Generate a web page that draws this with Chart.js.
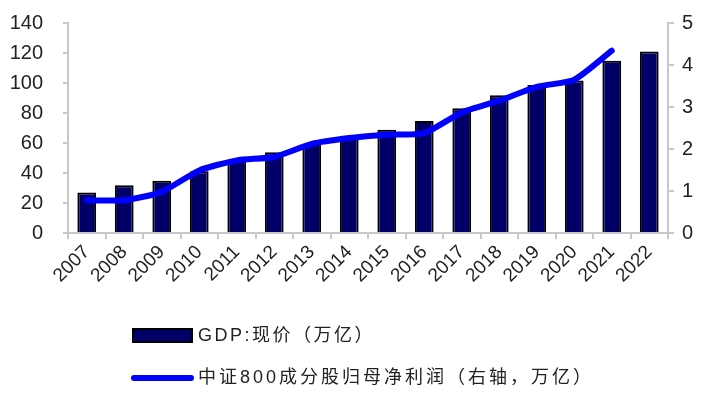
<!DOCTYPE html>
<html>
<head>
<meta charset="utf-8">
<script src="https://cdn.jsdelivr.net/npm/chart.js@4"></script>
<style>
  html, body { margin: 0; padding: 0; background: #fff; }
  #clip { width: 711px; height: 396px; overflow: hidden; position: relative; }
  #wrap { width: 711px; height: 405px; position: absolute; left: 0; top: -9px; }
</style>
</head>
<body>
<div id="clip"><div id="wrap"><canvas id="c"></canvas></div></div>
<script>
const years = ['2007','2008','2009','2010','2011','2012','2013','2014','2015','2016','2017','2018','2019','2020','2021','2022'];
const gdp = [27.0, 31.9, 34.9, 41.2, 48.8, 53.9, 59.3, 64.4, 68.9, 74.6, 83.2, 91.9, 98.7, 101.6, 114.9, 121.0];
const profit = [0.78, 0.78, 0.98, 1.49, 1.73, 1.81, 2.12, 2.26, 2.34, 2.38, 2.87, 3.15, 3.48, 3.65, 4.34, null];
const gdpLabel = 'GDP:现价（万亿）';
const profitLabel = '中证800成分股归母净利润（右轴，万亿）';

const FONT = '"Liberation Sans", Arial, "Noto Sans CJK SC", sans-serif';
const AXIS_GRAY = '#c8c8c8';
const SHIFT = 9; // canvas sits 9px above the page top

// legend drawn by hand, two rows below the axis
const bottomLegend = {
  id: 'bottomLegend',
  afterDraw(chart) {
    const ctx = chart.ctx;
    ctx.save();
    ctx.translate(0, SHIFT);
    // bar item
    ctx.fillStyle = '#000068';
    ctx.strokeStyle = '#000';
    ctx.lineWidth = 2;
    ctx.fillRect(133, 329, 59, 13);
    ctx.strokeRect(133, 329, 59, 13);
    // line item
    ctx.strokeStyle = '#0000ff';
    ctx.lineWidth = 6;
    ctx.lineCap = 'round';
    ctx.beginPath();
    ctx.moveTo(134, 378);
    ctx.lineTo(191, 378);
    ctx.stroke();

    ctx.fillStyle = '#222';
    ctx.textBaseline = 'middle';
    ctx.font = '18px ' + FONT;
    ctx.letterSpacing = '2.5px';
    ctx.fillText(chart.data.datasets[0].label, 198, 336);
    ctx.letterSpacing = '3px';
    ctx.fillText(chart.data.datasets[1].label, 198, 378);
    ctx.restore();
  }
};

const ctx = document.getElementById('c').getContext('2d');
const chart = new Chart(ctx, {
  data: {
    labels: years,
    datasets: [
      {
        type: 'bar',
        label: gdpLabel,
        data: gdp,
        yAxisID: 'y',
        backgroundColor: '#000068',
        borderColor: '#000',
        borderWidth: 2,
        barPercentage: 0.5,
        categoryPercentage: 1.0,
        order: 2
      },
      {
        type: 'line',
        label: profitLabel,
        data: profit,
        yAxisID: 'y1',
        borderColor: '#0000ff',
        borderWidth: 6,
        borderCapStyle: 'round',
        borderJoinStyle: 'round',
        pointRadius: 0,
        tension: 0.2,
        spanGaps: false,
        order: 1
      }
    ]
  },
  options: {
    responsive: true,
    maintainAspectRatio: false,
    animation: false,
    layout: { padding: { top: 3, left: 0, right: 0, bottom: 0 } },
    plugins: {
      legend: { display: false },
      tooltip: { enabled: false }
    },
    scales: {
      x: {
        grid: { display: true, drawOnChartArea: false, drawTicks: true, tickLength: 6, color: AXIS_GRAY, lineWidth: 2 },
        border: { color: AXIS_GRAY, width: 2 },
        ticks: {
          color: '#222',
          font: { family: FONT, size: 19 },
          maxRotation: 45,
          minRotation: 45,
          padding: 2,
          autoSkip: false
        },
        afterFit(s) { s.height = 396 - 233; }
      },
      y: {
        position: 'left',
        min: 0, max: 140,
        ticks: { stepSize: 20, color: '#222', font: { family: FONT, size: 20 }, padding: 20 },
        grid: { display: true, drawOnChartArea: false, drawTicks: true, tickLength: 5, color: AXIS_GRAY, lineWidth: 2 },
        border: { color: AXIS_GRAY, width: 2 },
        afterFit(s) { s.width = 68; }
      },
      y1: {
        position: 'right',
        min: 0, max: 5,
        ticks: { stepSize: 1, color: '#222', font: { family: FONT, size: 20 }, padding: 8 },
        grid: { display: true, drawOnChartArea: false, drawTicks: true, tickLength: 6, color: AXIS_GRAY, lineWidth: 2 },
        border: { color: AXIS_GRAY, width: 2 },
        afterFit(s) { s.width = 43; }
      }
    }
  },
  plugins: [bottomLegend]
});
</script>
</body>
</html>
